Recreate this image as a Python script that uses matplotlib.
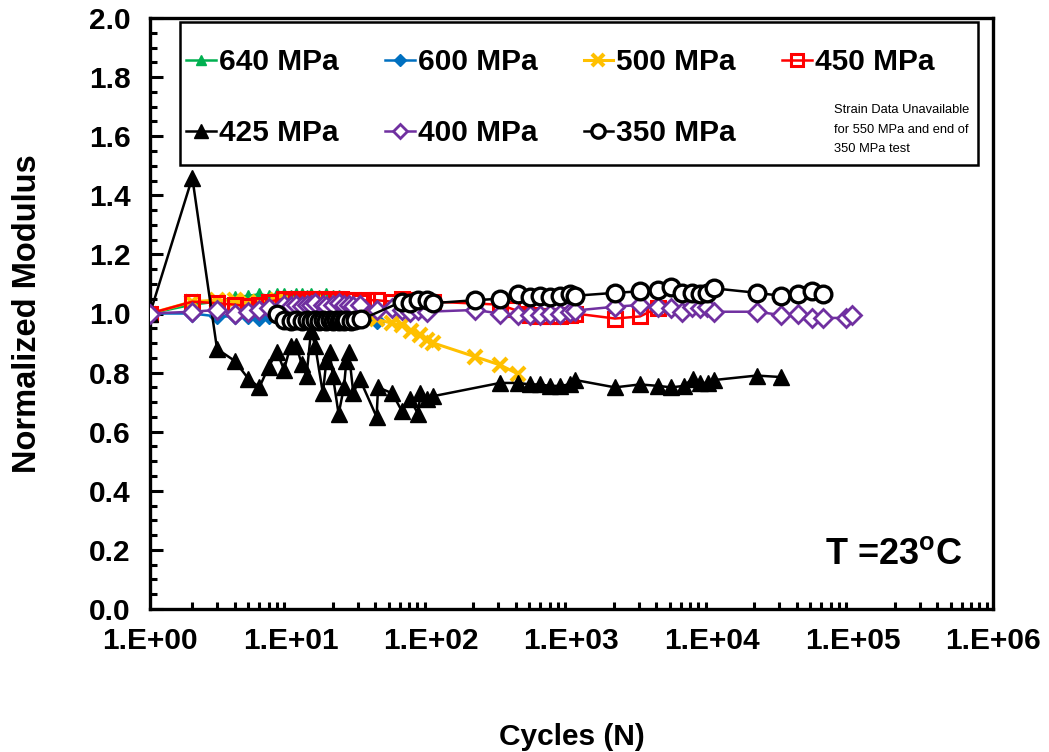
import matplotlib
matplotlib.use("Agg")
import matplotlib.pyplot as plt
from matplotlib import font_manager
from matplotlib.ticker import FixedLocator, FixedFormatter, LogLocator, MultipleLocator, NullFormatter, FormatStrFormatter
from matplotlib.patches import Rectangle

names = {f.name for f in font_manager.fontManager.ttflist}
SANS = "Liberation Sans" if "Liberation Sans" in names else "DejaVu Sans"
NARROW = "Liberation Sans Narrow" if "Liberation Sans Narrow" in names else None

plt.rcParams["font.family"] = [SANS, "DejaVu Sans"]
plt.rcParams["mathtext.fontset"] = "custom"
plt.rcParams["mathtext.rm"] = SANS
plt.rcParams["mathtext.bf"] = SANS + ":bold"

# ---------------- data ----------------
n_640 = [1, 2, 3, 4, 5, 6, 7, 8, 9, 10, 11, 12, 13, 14, 16, 18, 20, 22, 25]
v_640 = [1.0, 1.03, 1.04, 1.055, 1.06, 1.065, 1.06, 1.065, 1.065, 1.06, 1.065,
         1.065, 1.06, 1.065, 1.06, 1.065, 1.06, 1.06, 1.055]

n_600 = [1, 2, 3, 4, 5, 6, 7, 8, 9, 10, 11, 12, 14, 16, 18, 20, 23, 26, 30, 41]
v_600 = [1.0, 1.0, 0.99, 0.99, 0.99, 0.985, 0.99, 0.99, 0.985, 0.99, 0.99,
         0.985, 0.99, 0.99, 0.985, 0.99, 0.99, 0.985, 0.985, 0.975]

n_500 = [1, 2, 3, 4, 5, 6, 7, 8, 9, 10, 11, 12, 14, 16, 18, 20, 22, 25, 28, 31,
         36, 41, 53, 62, 72, 83, 93, 104, 205, 310, 418]
v_500 = [1.0, 1.04, 1.045, 1.045, 1.04, 1.035, 1.04, 1.045, 1.04, 1.035, 1.04,
         1.035, 1.04, 1.035, 1.035, 1.03, 1.03, 1.025, 1.02, 1.01, 1.0, 0.98,
         0.967, 0.96, 0.94, 0.927, 0.91, 0.9, 0.854, 0.826, 0.795]

n_450 = [1, 2, 3, 4, 5, 6, 7, 9, 10, 11, 12, 13, 14, 15, 17, 19, 21, 23, 25, 28,
         31, 35, 41, 53, 62, 71, 81, 94, 103, 310, 380, 474, 506, 595, 700, 826,
         970, 1060, 2040, 3070, 4140]
v_450 = [1.0, 1.04, 1.035, 1.03, 1.025, 1.03, 1.04, 1.05, 1.045, 1.05, 1.045,
         1.05, 1.045, 1.05, 1.05, 1.045, 1.05, 1.05, 1.045, 1.045, 1.04, 1.045,
         1.045, 1.04, 1.05, 1.045, 1.045, 1.04, 1.04, 1.03, 1.015, 1.0, 0.995,
         0.99, 0.99, 0.99, 0.995, 1.0, 0.983, 0.99, 1.02]

n_425 = [1, 2, 3, 4, 5, 6, 7, 8, 9, 10, 11, 12, 13, 14, 15, 17, 18, 19, 20, 22,
         24, 25, 26, 28, 31, 41, 42, 53, 62, 71, 81, 84, 94, 103, 310, 418, 506,
         595, 700, 826, 970, 1060, 2040, 3070, 4140, 5130, 6300, 7300, 8200, 9400,
         10400, 20800, 30800]
v_425 = [1.0, 1.46, 0.88, 0.84, 0.78, 0.75, 0.82, 0.87, 0.81, 0.89, 0.89, 0.83,
         0.79, 0.94, 0.89, 0.73, 0.84, 0.87, 0.79, 0.66, 0.75, 0.84, 0.87, 0.73,
         0.78, 0.65, 0.75, 0.73, 0.67, 0.71, 0.66, 0.73, 0.71, 0.72, 0.765, 0.765,
         0.76, 0.76, 0.755, 0.755, 0.76, 0.775, 0.75, 0.76, 0.755, 0.75, 0.755,
         0.78, 0.765, 0.765, 0.775, 0.79, 0.785]

n_400 = [1, 2, 3, 4, 5, 6, 7, 9, 10, 11, 12, 13, 14, 15, 17, 18, 20, 22, 24, 26,
         28, 31, 41, 53, 62, 71, 81, 94, 205, 310, 418, 506, 595, 700, 826, 970,
         1060, 2040, 3070, 4140, 5130, 6100, 7200, 8200, 9200, 10400, 20800,
         30800, 41000, 51600, 62000, 90000, 100000]
v_400 = [1.0, 1.006, 1.012, 1.0, 1.006, 1.012, 1.017, 1.03, 1.025, 1.03, 1.025,
         1.03, 1.03, 1.035, 1.03, 1.025, 1.03, 1.035, 1.03, 1.03, 1.025, 1.03,
         1.012, 1.018, 1.012, 1.006, 1.012, 1.006, 1.012, 1.0, 0.995, 0.995,
         0.995, 1.0, 1.0, 1.006, 1.01, 1.023, 1.029, 1.023, 1.017, 1.006, 1.023,
         1.017, 1.023, 1.006, 1.006, 0.995, 1.0, 0.985, 0.985, 0.985, 0.995]

n_350 = [8, 9, 10, 11, 12, 13, 14, 15, 16, 17, 18, 19, 20, 21, 22, 23, 24, 25,
         27, 29, 32, 62, 71, 81, 94, 103, 205, 310, 418, 506, 595, 700, 826, 970,
         1060, 2040, 3070, 4140, 5130, 6100, 7200, 8200, 9200, 10400, 20800,
         30800, 41000, 51600, 62000]
v_350 = [1.0, 0.978, 0.975, 0.978, 0.975, 0.978, 0.975, 0.978, 0.975,
         0.978, 0.975, 0.978, 0.975, 0.978, 0.975, 0.978, 0.975, 0.978, 0.975,
         0.978, 0.98, 1.04, 1.035, 1.045, 1.045, 1.035, 1.045, 1.05, 1.065,
         1.055, 1.06, 1.055, 1.06, 1.065, 1.06, 1.07, 1.075, 1.08, 1.09, 1.07,
         1.07, 1.065, 1.07, 1.085, 1.07, 1.06, 1.065, 1.075, 1.065]

x_tick_values = [1, 10, 100, 1000, 10000, 100000, 1000000]
x_tick_labels = ["1.E+00", "1.E+01", "1.E+02", "1.E+03", "1.E+04", "1.E+05", "1.E+06"]
y_tick_values = [0.0, 0.2, 0.4, 0.6, 0.8, 1.0, 1.2, 1.4, 1.6, 1.8, 2.0]

legend_labels = ["640 MPa", "600 MPa", "500 MPa", "450 MPa", "425 MPa", "400 MPa", "350 MPa"]
note_text = "Strain Data Unavailable\nfor 550 MPa and end of\n350 MPa test"
temp_text = r"T =23$^{\mathbf{o}}$C"

# ---------------- figure ----------------
fig = plt.figure(figsize=(10.49, 7.52), dpi=100)
ax = fig.add_axes([150 / 1049, 1 - 609 / 752, 843 / 1049, 591 / 752])

lw = 1.8
h640, = ax.plot(n_640, v_640, color="#00B050", lw=lw, marker="^", ms=9,
                mfc="#00B050", mec="#00B050", zorder=2)
h600, = ax.plot(n_600, v_600, color="#0070C0", lw=lw, marker="D", ms=8,
                mfc="#0070C0", mec="#0070C0", zorder=3)
h500, = ax.plot(n_500, v_500, color="#FFC000", lw=2.2, marker="x", ms=10,
                mew=3.0, zorder=4)
h450, = ax.plot(n_450, v_450, color="#FF0000", lw=lw, marker="s", ms=10,
                mfc="none", mec="#FF0000", mew=2.2, zorder=5)
h425, = ax.plot(n_425, v_425, color="black", lw=lw, marker="^", ms=12,
                mfc="black", mec="black", zorder=6)
h400, = ax.plot(n_400, v_400, color="#7030A0", lw=lw, marker="D", ms=9,
                mfc="white", mec="#7030A0", mew=2.0, zorder=7)
h350, = ax.plot(n_350, v_350, color="black", lw=lw, marker="o", ms=12,
                mfc="white", mec="black", mew=2.4, zorder=8)

ax.set_xscale("log")
ax.set_xlim(1, 1e6)
ax.set_ylim(0, 2.0)

ax.xaxis.set_major_locator(FixedLocator(x_tick_values))
ax.xaxis.set_major_formatter(FixedFormatter(x_tick_labels))
ax.xaxis.set_minor_locator(LogLocator(base=10, subs=range(2, 10), numticks=20))
ax.xaxis.set_minor_formatter(NullFormatter())
ax.yaxis.set_major_locator(FixedLocator(y_tick_values))
ax.yaxis.set_minor_locator(MultipleLocator(0.05))
ax.yaxis.set_major_formatter(FormatStrFormatter("%.1f"))

ax.tick_params(axis="both", which="both", direction="in", width=2.2, colors="black")
ax.tick_params(axis="x", which="major", length=0, pad=13, labelsize=21.5)
ax.tick_params(axis="x", which="minor", length=5)
ax.tick_params(axis="y", which="major", length=9, pad=14, labelsize=21.5)
ax.tick_params(axis="y", which="minor", length=5)
for lab in ax.get_xticklabels() + ax.get_yticklabels():
    lab.set_fontweight("bold")
for sp in ax.spines.values():
    sp.set_linewidth(2.4)

ax.set_xlabel("Cycles (N)", fontsize=21.5, fontweight="bold")
ax.xaxis.label.set_va("center")
ax.xaxis.set_label_coords(0.5, (609 - 737) / 591)
if NARROW:
    ax.set_ylabel("Normalized Modulus", fontsize=29, fontweight="bold",
                  family=[NARROW, "DejaVu Sans"])
else:
    ax.set_ylabel("Normalized Modulus", fontsize=23.5, fontweight="bold")
ax.yaxis.label.set_va("center")
ax.yaxis.set_label_coords((27 - 150) / 843, 0.5)

# legend frame
ax.add_patch(Rectangle(((180 - 150) / 843, (609 - 165) / 591), (978 - 180) / 843,
                       (165 - 22) / 591, transform=ax.transAxes, fill=True,
                       facecolor="white", edgecolor="black", lw=1.8, zorder=10))

handles = [h640, h425, h600, h400, h500, h350, h450]
labels = [legend_labels[0], legend_labels[4], legend_labels[1], legend_labels[5],
          legend_labels[2], legend_labels[6], legend_labels[3]]
leg = ax.legend(handles, labels, ncol=4, loc="upper left", frameon=False,
                bbox_to_anchor=((186 - 150) / 843, (609 - 48) / 591),
                borderpad=0, borderaxespad=0, prop=dict(size=21.5, weight="bold"),
                handlelength=1.0, handletextpad=0.1, columnspacing=1.55,
                labelspacing=1.45, markerscale=0.8)
leg.set_zorder(11)

ax.text((834 - 150) / 843, (609 - 104) / 591, note_text, transform=ax.transAxes,
        ha="left", va="top", fontsize=9.3, linespacing=1.85, zorder=12,
        family=[NARROW, "DejaVu Sans"] if NARROW else [SANS, "DejaVu Sans"])

ax.text((962 - 150) / 843, (609 - 555) / 591, temp_text, transform=ax.transAxes,
        ha="right", va="center", fontsize=26, fontweight="bold", zorder=12)

fig.savefig("out.png", dpi=100)
